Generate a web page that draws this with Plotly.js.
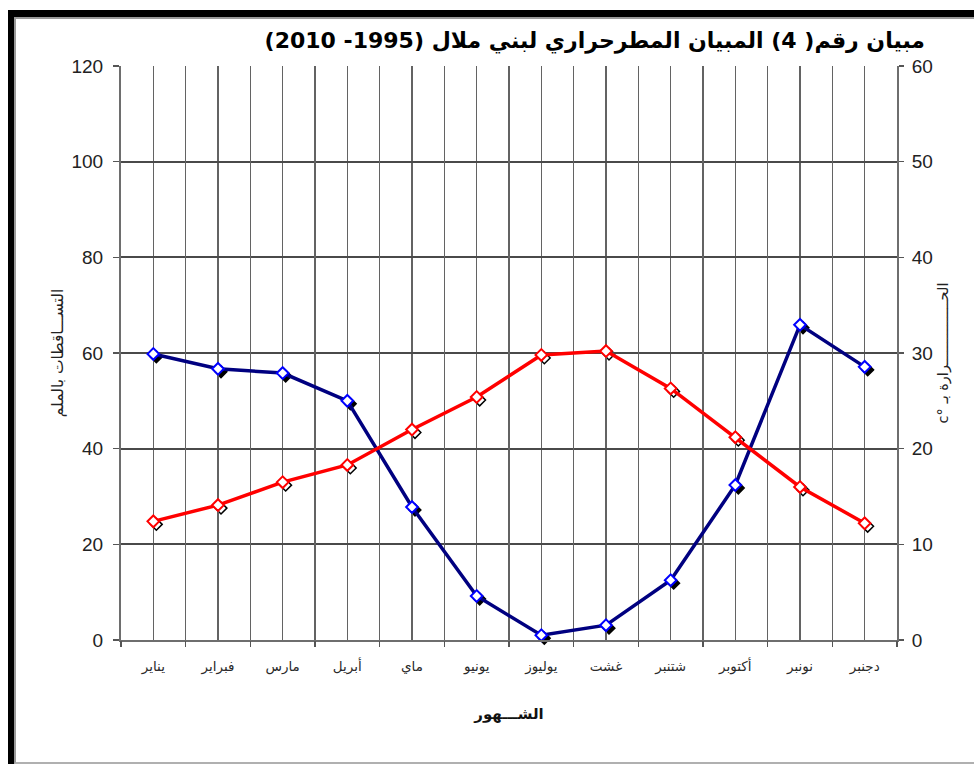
<!DOCTYPE html>
<html>
<head>
<meta charset="utf-8">
<script src="https://cdn.plot.ly/plotly-3.0.1.min.js"></script>
<style>
  html, body { margin: 0; padding: 0; background: #ffffff; }
  #wrap { position: relative; width: 974px; height: 764px; overflow: hidden; background: #fff; }
  #chart { position: absolute; left: 0; top: 0; width: 974px; height: 764px; }
  #frameOuter { position: absolute; left: 8px; top: 10px; width: 980px; height: 800px;
    border-left: 6px solid #000; border-top: 7px solid #000; pointer-events: none; box-sizing: border-box; }
  #frameInner { position: absolute; left: 14px; top: 17px; width: 980px; height: 747px;
    border-left: 2px solid #9a9a9a; border-top: 2px solid #9a9a9a; border-bottom: 2px solid #b0b0b0;
    pointer-events: none; box-sizing: border-box; }
</style>
</head>
<body>
<div id="wrap">
  <div id="chart"></div>
  <div id="frameOuter"></div>
  <div id="frameInner"></div>
</div>
<script>
// ---- data ----
const months = ['يناير','فبراير','مارس','أبريل','ماي','يونيو','يوليوز','غشت','شتنبر','أكتوبر','نونبر','دجنبر'];
const precipitation = [59.8, 56.7, 55.8, 50.0, 27.8, 9.2, 1.0, 3.1, 12.5, 32.4, 65.9, 57.1]; // mm (left axis)
const temperature   = [12.4, 14.1, 16.5, 18.3, 22.0, 25.4, 29.8, 30.2, 26.3, 21.2, 16.0, 12.2]; // °C (right axis)

const titleText = 'مبيان رقم( 4) المبيان المطرحراري لبني ملال (1995- 2010)';
const xTitle = 'الشـــهور';
const yLeftTitle = 'التســـاقطات بالملم';
const yRightTitle = 'c° الحـــــــــــــــرارة بـ';

// ---- geometry ----
const PW = 779, PH = 577;         // plot area incl. shadow offset
const SX = 3 / PW, SY = 3 / PH;   // shadow offset (down-right)

const numFont = { family: 'Liberation Sans Narrow, Liberation Sans, Arial, sans-serif', size: 19, color: '#222' };
const arFont = { family: 'DejaVu Sans, Noto Sans, sans-serif', size: 13.5, color: '#2a2a2a' };
const gridV = '#636363', gridH = '#4a4a4a';

const traces = [
  { // shadow of precipitation markers
    x: months, y: precipitation, xaxis: 'x', yaxis: 'y', type: 'scatter', mode: 'markers',
    marker: { symbol: 'diamond', size: 9, color: '#000', line: { color: '#000', width: 1.5 } },
    hoverinfo: 'skip', showlegend: false, cliponaxis: false
  },
  { // shadow of temperature markers
    x: months, y: temperature, xaxis: 'x', yaxis: 'y3', type: 'scatter', mode: 'markers',
    marker: { symbol: 'diamond-open', size: 9, color: '#000', line: { color: '#000', width: 1.5 } },
    hoverinfo: 'skip', showlegend: false, cliponaxis: false
  },
  { // precipitation
    x: months, y: precipitation, xaxis: 'x2', yaxis: 'y2', type: 'scatter', mode: 'lines+markers',
    line: { color: '#000080', width: 3.5 },
    marker: { symbol: 'diamond', size: 9, color: '#ffffff', line: { color: '#0000ff', width: 2 } },
    showlegend: false, cliponaxis: false
  },
  { // temperature
    x: months, y: temperature, xaxis: 'x3', yaxis: 'y4', type: 'scatter', mode: 'lines+markers',
    line: { color: '#ff0000', width: 3.5 },
    marker: { symbol: 'diamond', size: 9, color: '#ffffff', line: { color: '#ff0000', width: 2 } },
    showlegend: false, cliponaxis: false
  }
];

const layout = {
  width: 974, height: 764,
  margin: { l: 121, r: 974 - 121 - PW, t: 66, b: 764 - 66 - PH, pad: 0 },
  paper_bgcolor: 'rgba(0,0,0,0)', plot_bgcolor: 'rgba(0,0,0,0)',
  showlegend: false,
  title: {
    text: '<b>' + titleText + '</b>',
    font: { family: 'DejaVu Sans, Noto Sans, sans-serif', size: 22, color: '#000' },
    xref: 'container', yref: 'container', x: 925 / 974, xanchor: 'right',
    y: 1 - 40 / 764, yanchor: 'middle'
  },
  // shadow axes (hidden)
  xaxis: { domain: [SX, 1], anchor: 'y', type: 'category', categoryorder: 'array', categoryarray: months,
           range: [-0.5, 11.5], visible: false },
  yaxis: { domain: [0, 1 - SY], anchor: 'x', range: [0, 120], visible: false, zeroline: false },
  yaxis3: { overlaying: 'y', anchor: 'x', range: [0, 60], visible: false, zeroline: false },
  // visible axes
  xaxis2: {
    domain: [0, 1 - SX], anchor: 'y2', type: 'category', categoryorder: 'array', categoryarray: months,
    range: [-0.5, 11.5], showgrid: true, gridcolor: gridV, gridwidth: 1.5,
    ticks: '', showline: true, linecolor: '#6e6e6e', linewidth: 2,
    tickfont: arFont, ticklabelstandoff: 13,
    title: { text: '<b>' + xTitle + '</b>', font: { family: 'DejaVu Sans, sans-serif', size: 15, color: '#111' }, standoff: 34 }
  },
  xaxis3: {
    overlaying: 'x2', anchor: 'y2', type: 'category', categoryorder: 'array', categoryarray: months,
    range: [-0.5, 11.5], tickson: 'boundaries',
    showgrid: true, gridcolor: gridV, gridwidth: 1.5, zeroline: false,
    ticks: 'outside', ticklen: 6, tickwidth: 1.5, tickcolor: '#555', showticklabels: false, showline: false
  },
  yaxis2: {
    domain: [SY, 1], anchor: 'x2', side: 'left', range: [0, 120], dtick: 20, tick0: 0,
    showgrid: true, gridcolor: gridH, gridwidth: 2, zeroline: false,
    ticks: 'outside', ticklen: 6, tickwidth: 1.5, tickcolor: '#555',
    showline: true, linecolor: '#6e6e6e', linewidth: 2,
    tickfont: numFont, ticklabelstandoff: 6,
    title: { text: yLeftTitle, font: { family: 'DejaVu Sans, sans-serif', size: 15.5, color: '#222' }, standoff: 4 }
  },
  yaxis4: {
    overlaying: 'y2', anchor: 'x2', side: 'right', range: [0, 60], dtick: 10, tick0: 0,
    showgrid: false, zeroline: false,
    ticks: 'outside', ticklen: 5, tickwidth: 1.5, tickcolor: '#555',
    showline: true, linecolor: '#6e6e6e', linewidth: 2,
    tickfont: numFont, ticklabelstandoff: 4,
    title: { text: yRightTitle, font: { family: 'DejaVu Sans, sans-serif', size: 14.5, color: '#222' }, standoff: 6 }
  }
};

Plotly.newPlot('chart', traces, layout, { staticPlot: true, displayModeBar: false });
</script>
</body>
</html>
